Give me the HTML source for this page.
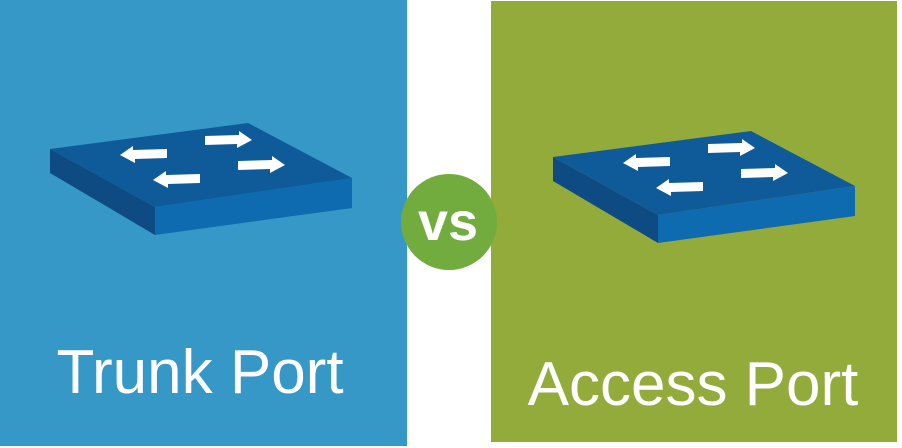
<!DOCTYPE html>
<html><head><style>
body{margin:0;width:902px;height:448px;background:#fff;overflow:hidden;position:relative;font-family:"Liberation Sans",sans-serif}
</style></head><body>
<svg width="902" height="448" style="position:absolute;left:0;top:0">
<rect x="0" y="0" width="407" height="446" fill="#3598c6"/>
<rect x="491" y="1" width="406" height="441" fill="#93ab3b"/>
<defs>
<g id="sw">
<polygon points="50,149 155,207 155,235 50,173" fill="#0d4b82"/>
<polygon points="155,207 352,178 352,208 155,235" fill="#0e6bb0"/>
<polygon points="50,149 248,123 352,178 155,207" fill="#0f5a99"/>
<polygon points="167,149 133,150 133,146 120,155 135,163 135,159 167,158" fill="#fff"/>
<polygon points="200,174 166,175 166,171 153,180 168,188 168,184 200,183" fill="#fff"/>
<polygon points="205,136 239,135 239,131 252,140 237,148 237,144 205,145" fill="#fff"/>
<polygon points="238,161 272,160 272,156 285,165 270,173 270,169 238,170" fill="#fff"/>
</g>
</defs>
<use href="#sw"/>
<use href="#sw" transform="translate(503,8)"/>
<circle cx="449" cy="222" r="48" fill="#72ac3e"/>
<text x="448" y="240" text-anchor="middle" font-family="Liberation Sans" font-weight="bold" font-size="54" fill="#fff">vs</text>
<text x="200" y="393" text-anchor="middle" font-family="Liberation Sans" font-size="62" fill="#fff">Trunk Port</text>
<text x="693" y="405" text-anchor="middle" font-family="Liberation Sans" font-size="62" fill="#fff">Access Port</text>
</svg>
</body></html>
